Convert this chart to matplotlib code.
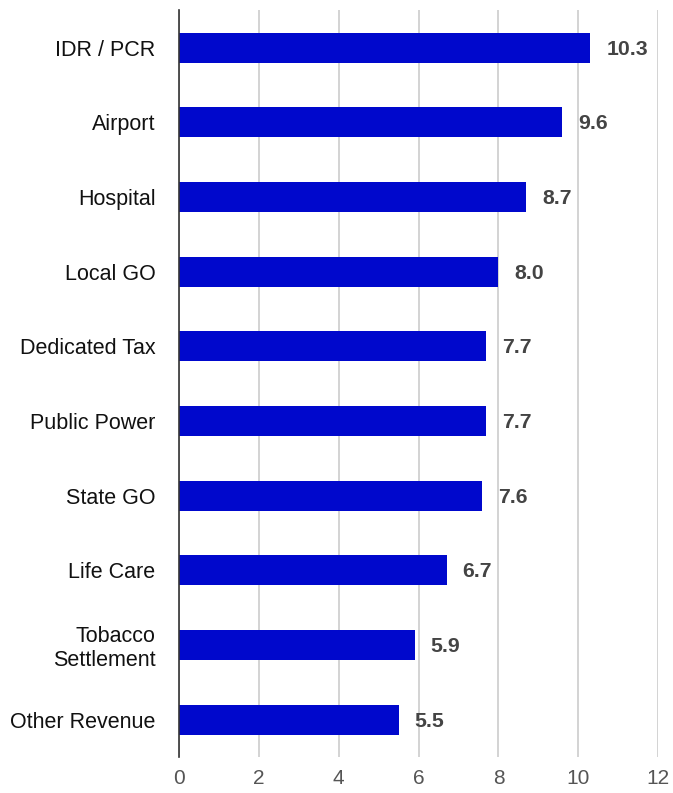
import matplotlib
matplotlib.use("Agg")
import matplotlib.pyplot as plt

plt.rcParams['font.family'] = ['Liberation Sans', 'DejaVu Sans']

# Sectors, top to bottom
sectors = ["IDR / PCR", "Airport", "Hospital", "Local GO", "Dedicated Tax",
           "Public Power", "State GO", "Life Care", "Tobacco\nSettlement",
           "Other Revenue"]
values = [10.3, 9.6, 8.7, 8.0, 7.7, 7.7, 7.6, 6.7, 5.9, 5.5]
xticks = [0, 2, 4, 6, 8, 10, 12]

fig = plt.figure(figsize=(6.73, 7.93), dpi=100)
ax = fig.add_axes([0.266, 0.0454, 0.712, 0.9416])

pos = list(range(len(sectors)))
ax.barh(pos, values, height=0.4, color="#0008CC", zorder=3)

for y, v in zip(pos, values):
    ax.text(v + 0.4, y + 0.02, f"{v:.1f}", va="center", ha="left",
            fontsize=15.3, fontweight="bold", color="#444444")

ax.set_ylim(len(sectors) - 0.5, -0.5)
ax.set_xlim(0, 12)
ax.set_xticks(xticks)
ax.set_xticklabels([str(t) for t in xticks], fontsize=15, color="#555555")
ax.set_yticks(pos)
ax.set_yticklabels(sectors, fontsize=15.5, color="#111111", ha="right",
                   linespacing=1.15)
ax.tick_params(axis="both", length=0)
ax.tick_params(axis="y", pad=17)
ax.tick_params(axis="x", pad=9)

ax.grid(axis="x", color="#cccccc", linewidth=1.2, zorder=0)
for s in ["top", "right", "bottom"]:
    ax.spines[s].set_visible(False)
ax.spines["left"].set_color("#333333")
ax.spines["left"].set_linewidth(1.2)
ax.spines["left"].set_zorder(4)

fig.savefig("out.png", dpi=100)
